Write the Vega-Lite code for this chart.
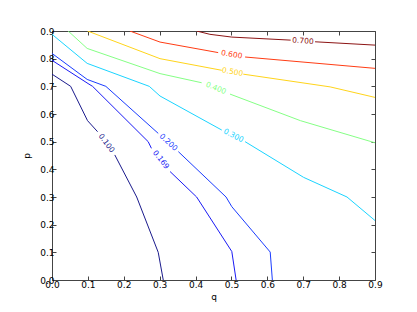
{
  "$schema": "https://vega.github.io/schema/vega-lite/v6.json",
  "width": 323,
  "height": 249,
  "autosize": "none",
  "padding": {"left": 52, "top": 31, "right": 42, "bottom": 32},
  "background": "#ffffff",
  "datasets": {
    "lines": [
      {"level": "0.100", "seg": "0.100a", "i": 1, "q": 0, "p": 0.744},
      {"level": "0.100", "seg": "0.100a", "i": 2, "q": 0.052, "p": 0.7},
      {"level": "0.100", "seg": "0.100a", "i": 3, "q": 0.099, "p": 0.576},
      {"level": "0.100", "seg": "0.100a", "i": 4, "q": 0.127, "p": 0.536},
      {"level": "0.100", "seg": "0.100b", "i": 5, "q": 0.175, "p": 0.452},
      {"level": "0.100", "seg": "0.100b", "i": 6, "q": 0.236, "p": 0.3},
      {"level": "0.100", "seg": "0.100b", "i": 7, "q": 0.296, "p": 0.1},
      {"level": "0.100", "seg": "0.100b", "i": 8, "q": 0.31, "p": 0},
      {"level": "0.169", "seg": "0.169a", "i": 1, "q": 0, "p": 0.794},
      {"level": "0.169", "seg": "0.169a", "i": 2, "q": 0.1005, "p": 0.71},
      {"level": "0.169", "seg": "0.169a", "i": 3, "q": 0.113, "p": 0.7},
      {"level": "0.169", "seg": "0.169a", "i": 4, "q": 0.268, "p": 0.5},
      {"level": "0.169", "seg": "0.169a", "i": 5, "q": 0.277, "p": 0.476},
      {"level": "0.169", "seg": "0.169b", "i": 6, "q": 0.329, "p": 0.392},
      {"level": "0.169", "seg": "0.169b", "i": 7, "q": 0.403, "p": 0.3},
      {"level": "0.169", "seg": "0.169b", "i": 8, "q": 0.501, "p": 0.103},
      {"level": "0.169", "seg": "0.169b", "i": 9, "q": 0.513, "p": 0},
      {"level": "0.200", "seg": "0.200a", "i": 1, "q": 0, "p": 0.819},
      {"level": "0.200", "seg": "0.200a", "i": 2, "q": 0.098, "p": 0.725},
      {"level": "0.200", "seg": "0.200a", "i": 3, "q": 0.15, "p": 0.7},
      {"level": "0.200", "seg": "0.200a", "i": 4, "q": 0.296, "p": 0.53},
      {"level": "0.200", "seg": "0.200b", "i": 5, "q": 0.352, "p": 0.464},
      {"level": "0.200", "seg": "0.200b", "i": 6, "q": 0.485, "p": 0.3},
      {"level": "0.200", "seg": "0.200b", "i": 7, "q": 0.501, "p": 0.265},
      {"level": "0.200", "seg": "0.200b", "i": 8, "q": 0.608, "p": 0.101},
      {"level": "0.200", "seg": "0.200b", "i": 9, "q": 0.614, "p": 0},
      {"level": "0.300", "seg": "0.300a", "i": 1, "q": 0, "p": 0.888},
      {"level": "0.300", "seg": "0.300a", "i": 2, "q": 0.098, "p": 0.783},
      {"level": "0.300", "seg": "0.300a", "i": 3, "q": 0.271, "p": 0.7},
      {"level": "0.300", "seg": "0.300a", "i": 4, "q": 0.301, "p": 0.665},
      {"level": "0.300", "seg": "0.300a", "i": 5, "q": 0.473, "p": 0.542},
      {"level": "0.300", "seg": "0.300b", "i": 6, "q": 0.538, "p": 0.5},
      {"level": "0.300", "seg": "0.300b", "i": 7, "q": 0.701, "p": 0.371},
      {"level": "0.300", "seg": "0.300b", "i": 8, "q": 0.822, "p": 0.3},
      {"level": "0.300", "seg": "0.300b", "i": 9, "q": 0.9, "p": 0.215},
      {"level": "0.400", "seg": "0.400a", "i": 1, "q": 0.045, "p": 0.9},
      {"level": "0.400", "seg": "0.400a", "i": 2, "q": 0.098, "p": 0.837},
      {"level": "0.400", "seg": "0.400a", "i": 3, "q": 0.301, "p": 0.746},
      {"level": "0.400", "seg": "0.400a", "i": 4, "q": 0.417, "p": 0.713},
      {"level": "0.400", "seg": "0.400b", "i": 5, "q": 0.496, "p": 0.672},
      {"level": "0.400", "seg": "0.400b", "i": 6, "q": 0.692, "p": 0.576},
      {"level": "0.400", "seg": "0.400b", "i": 7, "q": 0.9, "p": 0.496},
      {"level": "0.500", "seg": "0.500a", "i": 1, "q": 0.099, "p": 0.9},
      {"level": "0.500", "seg": "0.500a", "i": 2, "q": 0.301, "p": 0.8},
      {"level": "0.500", "seg": "0.500a", "i": 3, "q": 0.473, "p": 0.758},
      {"level": "0.500", "seg": "0.500b", "i": 4, "q": 0.533, "p": 0.744},
      {"level": "0.500", "seg": "0.500b", "i": 5, "q": 0.775, "p": 0.698},
      {"level": "0.500", "seg": "0.500b", "i": 6, "q": 0.9, "p": 0.66},
      {"level": "0.600", "seg": "0.600a", "i": 1, "q": 0.217, "p": 0.9},
      {"level": "0.600", "seg": "0.600a", "i": 2, "q": 0.301, "p": 0.86},
      {"level": "0.600", "seg": "0.600a", "i": 3, "q": 0.463, "p": 0.822},
      {"level": "0.600", "seg": "0.600b", "i": 4, "q": 0.538, "p": 0.806},
      {"level": "0.600", "seg": "0.600b", "i": 5, "q": 0.9, "p": 0.765},
      {"level": "0.700", "seg": "0.700a", "i": 1, "q": 0.403, "p": 0.9},
      {"level": "0.700", "seg": "0.700a", "i": 2, "q": 0.44, "p": 0.888},
      {"level": "0.700", "seg": "0.700a", "i": 3, "q": 0.501, "p": 0.878},
      {"level": "0.700", "seg": "0.700a", "i": 4, "q": 0.665, "p": 0.867},
      {"level": "0.700", "seg": "0.700b", "i": 5, "q": 0.733, "p": 0.861},
      {"level": "0.700", "seg": "0.700b", "i": 6, "q": 0.9, "p": 0.849}
    ],
    "labels": [
      {"level": "0.100", "q": 0.151, "p": 0.494},
      {"level": "0.169", "q": 0.303, "p": 0.434},
      {"level": "0.200", "q": 0.324, "p": 0.497},
      {"level": "0.300", "q": 0.5055, "p": 0.521},
      {"level": "0.400", "q": 0.4565, "p": 0.6925},
      {"level": "0.500", "q": 0.503, "p": 0.751},
      {"level": "0.600", "q": 0.5005, "p": 0.814},
      {"level": "0.700", "q": 0.699, "p": 0.863}
    ]
  },
  "layer": [
    {
      "data": {"name": "lines"},
      "mark": {"type": "line", "strokeWidth": 1, "clip": true},
      "encoding": {
        "x": {"field": "q", "type": "quantitative", "scale": {"domain": [0, 0.9], "nice": false, "zero": false},
              "axis": {"orient": "bottom", "title": "q", "values": [0, 0.1, 0.2, 0.3, 0.4, 0.5, 0.6, 0.7, 0.8, 0.9], "format": ".1f", "labelFlush": false, "labelPadding": 4, "titlePadding": 3}},
        "y": {"field": "p", "type": "quantitative", "scale": {"domain": [0, 0.9], "nice": false, "zero": false},
              "axis": {"orient": "left", "title": "p", "values": [0, 0.1, 0.2, 0.3, 0.4, 0.5, 0.6, 0.7, 0.8, 0.9], "format": ".1f", "labelFlush": false, "labelPadding": 2, "titlePadding": 8}},
        "color": {"field": "level", "type": "nominal",
                  "scale": {"domain": ["0.100", "0.169", "0.200", "0.300", "0.400", "0.500", "0.600", "0.700"],
                            "range": ["#1a1a8c", "#1a1af5", "#1a3cff", "#1ad4ff", "#85ff85", "#ffd41a", "#ff3c14", "#8c1414"]},
                  "legend": null},
        "detail": {"field": "seg"},
        "order": {"field": "i", "type": "quantitative"}
      }
    },
    {
      "data": {"name": "labels"},
      "transform": [{"filter": "datum.level == '0.100'"}],
      "mark": {"type": "text", "angle": 53, "fontSize": 7.5, "font": "DejaVu Sans", "align": "center", "baseline": "middle"},
      "encoding": {
        "x": {"field": "q", "type": "quantitative", "axis": {"orient": "top", "title": null, "labels": false, "values": [0, 0.1, 0.2, 0.3, 0.4, 0.5, 0.6, 0.7, 0.8, 0.9]}},
        "y": {"field": "p", "type": "quantitative", "axis": {"orient": "right", "title": null, "labels": false, "values": [0, 0.1, 0.2, 0.3, 0.4, 0.5, 0.6, 0.7, 0.8, 0.9]}},
        "text": {"field": "level"},
        "color": {"field": "level", "type": "nominal", "legend": null}
      }
    },
    {
      "data": {"name": "labels"},
      "transform": [{"filter": "datum.level == '0.169'"}],
      "mark": {"type": "text", "angle": 52, "fontSize": 7.5, "font": "DejaVu Sans", "align": "center", "baseline": "middle"},
      "encoding": {
        "x": {"field": "q", "type": "quantitative", "axis": null},
        "y": {"field": "p", "type": "quantitative", "axis": null},
        "text": {"field": "level"},
        "color": {"field": "level", "type": "nominal", "legend": null}
      }
    },
    {
      "data": {"name": "labels"},
      "transform": [{"filter": "datum.level == '0.200'"}],
      "mark": {"type": "text", "angle": 43, "fontSize": 7.5, "font": "DejaVu Sans", "align": "center", "baseline": "middle"},
      "encoding": {
        "x": {"field": "q", "type": "quantitative", "axis": null},
        "y": {"field": "p", "type": "quantitative", "axis": null},
        "text": {"field": "level"},
        "color": {"field": "level", "type": "nominal", "legend": null}
      }
    },
    {
      "data": {"name": "labels"},
      "transform": [{"filter": "datum.level == '0.300'"}],
      "mark": {"type": "text", "angle": 27, "fontSize": 7.5, "font": "DejaVu Sans", "align": "center", "baseline": "middle"},
      "encoding": {
        "x": {"field": "q", "type": "quantitative", "axis": null},
        "y": {"field": "p", "type": "quantitative", "axis": null},
        "text": {"field": "level"},
        "color": {"field": "level", "type": "nominal", "legend": null}
      }
    },
    {
      "data": {"name": "labels"},
      "transform": [{"filter": "datum.level == '0.400'"}],
      "mark": {"type": "text", "angle": 22, "fontSize": 7.5, "font": "DejaVu Sans", "align": "center", "baseline": "middle"},
      "encoding": {
        "x": {"field": "q", "type": "quantitative", "axis": null},
        "y": {"field": "p", "type": "quantitative", "axis": null},
        "text": {"field": "level"},
        "color": {"field": "level", "type": "nominal", "legend": null}
      }
    },
    {
      "data": {"name": "labels"},
      "transform": [{"filter": "datum.level == '0.500'"}],
      "mark": {"type": "text", "angle": 10, "fontSize": 7.5, "font": "DejaVu Sans", "align": "center", "baseline": "middle"},
      "encoding": {
        "x": {"field": "q", "type": "quantitative", "axis": null},
        "y": {"field": "p", "type": "quantitative", "axis": null},
        "text": {"field": "level"},
        "color": {"field": "level", "type": "nominal", "legend": null}
      }
    },
    {
      "data": {"name": "labels"},
      "transform": [{"filter": "datum.level == '0.600'"}],
      "mark": {"type": "text", "angle": 9, "fontSize": 7.5, "font": "DejaVu Sans", "align": "center", "baseline": "middle"},
      "encoding": {
        "x": {"field": "q", "type": "quantitative", "axis": null},
        "y": {"field": "p", "type": "quantitative", "axis": null},
        "text": {"field": "level"},
        "color": {"field": "level", "type": "nominal", "legend": null}
      }
    },
    {
      "data": {"name": "labels"},
      "transform": [{"filter": "datum.level == '0.700'"}],
      "mark": {"type": "text", "angle": 4, "fontSize": 7.5, "font": "DejaVu Sans", "align": "center", "baseline": "middle"},
      "encoding": {
        "x": {"field": "q", "type": "quantitative", "axis": null},
        "y": {"field": "p", "type": "quantitative", "axis": null},
        "text": {"field": "level"},
        "color": {"field": "level", "type": "nominal", "legend": null}
      }
    }
  ],
  "resolve": {"axis": {"x": "independent", "y": "independent"}},
  "config": {
    "view": {"stroke": "#444444", "strokeWidth": 1},
    "axis": {
      "domain": false,
      "grid": false,
      "ticks": true,
      "tickSize": -4,
      "tickColor": "#444444",
      "tickWidth": 1,
      "labelFont": "DejaVu Sans",
      "labelFontSize": 9,
      "labelColor": "#000000",
      "titleFont": "DejaVu Sans",
      "titleFontSize": 9,
      "titleFontWeight": "normal",
      "titleColor": "#000000"
    }
  }
}
